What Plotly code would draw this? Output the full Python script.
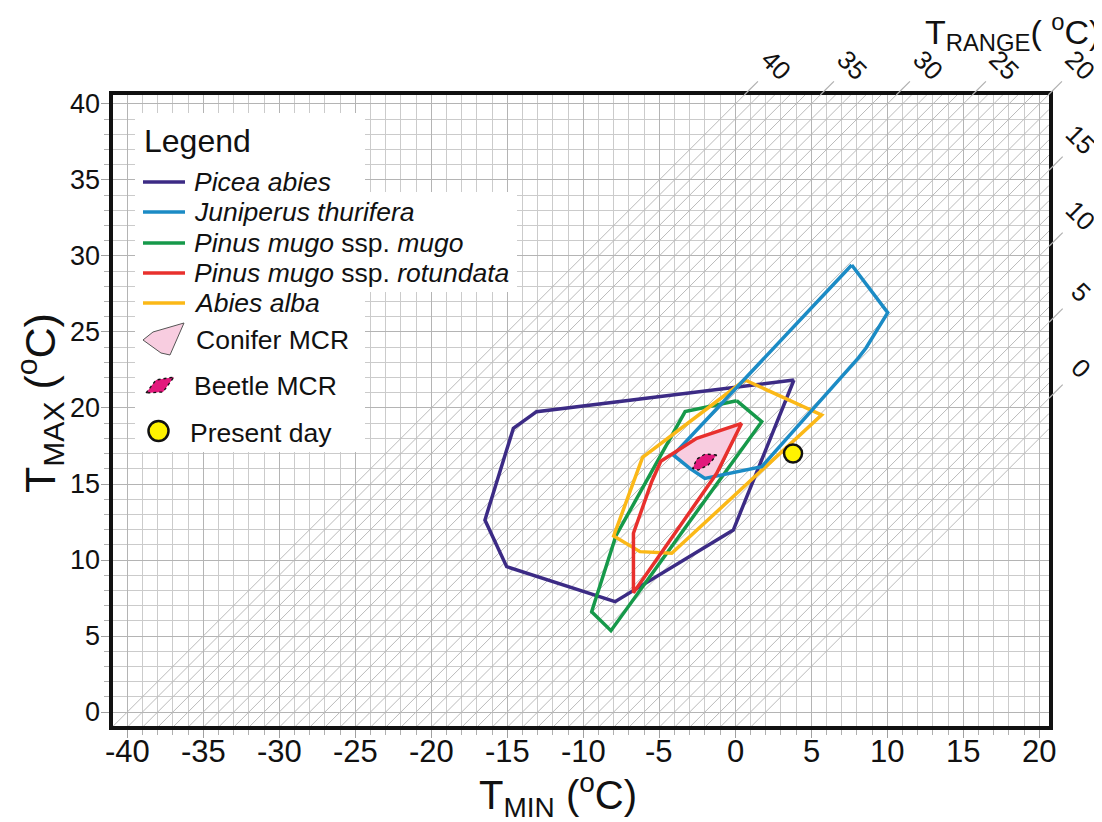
import plotly.graph_objects as go

# ---------------- data ----------------
picea_tmin = [3.86, -0.13, -7.91, -15.04, -16.47, -14.6, -13.07]
picea_tmax = [21.84, 11.97, 7.26, 9.56, 12.63, 18.66, 19.76]

juniperus_tmin = [7.66, 10.03, 8.6, 8.1, 1.74, -0.35, -2.0, -2.99, -4.08]
juniperus_tmax = [29.41, 26.27, 23.95, 23.3, 16.14, 15.7, 15.37, 16.03, 16.91]

mugo_tmin = [0.09, 1.74, -8.18, -9.45, -7.85, -6.06, -3.3]
mugo_tmax = [20.48, 19.1, 5.35, 6.6, 11.6, 14.82, 19.76]

rotundata_tmin = [0.42, -2.54, -4.9, -5.5, -6.7, -6.7, -1.22]
rotundata_tmax = [18.99, 18.0, 16.5, 15.15, 11.76, 7.85, 15.7]

abies_tmin = [0.64, 5.68, -4.18, -6.27, -8.0, -6.1]
abies_tmax = [21.84, 19.54, 10.44, 10.55, 11.58, 16.75]

conifer_mcr_tmin = [0.42, -1.01, -1.45, -1.99, -2.99, -4.08, -2.99, -2.54]
conifer_mcr_tmax = [18.99, 15.92, 15.48, 15.31, 16.03, 16.91, 17.78, 18.0]

beetle_mcr_tmin = [-1.22, -1.99, -2.54, -2.8, -2.43, -1.78]
beetle_mcr_tmax = [16.91, 16.97, 16.63, 16.03, 15.92, 16.25]

present_tmin = [3.8]
present_tmax = [17.0]

trange_levels = list(range(-2, 41))          # diagonal T_RANGE lines
trange_labels = [40, 35, 30, 25, 20, 15, 10, 5, 0]

x_tick_vals = list(range(-40, 21, 5))
x_tick_text = ["-40", "-35", "-30", "-25", "-20", "-15", "-10", "-5", "0", "5", "10", "15", "20"]
y_tick_vals = list(range(0, 41, 5))
y_tick_text = ["0", "5", "10", "15", "20", "25", "30", "35", "40"]

legend_names = ["<i>Picea abies</i>", "<i>Juniperus thurifera</i>",
                "<i>Pinus mugo</i> ssp. <i>mugo</i>", "<i>Pinus mugo</i> ssp. <i>rotundata</i>",
                "<i>Abies alba</i>"]

# ---------------- styling / layout ----------------
OFF = 8                     # default page body margin
W, H = 1102 - OFF, 822 - OFF
# plot-area edges in screen pixels
L, R, T, B = 113, 1049, 95, 726
x_range = [-40.94, 20.64]
y_range = [-0.92, 40.59]

C_PICEA = "#3c2b85"
C_JUNI = "#1b8bc5"
C_MUGO = "#16994a"
C_ROT = "#e8302d"
C_ABIES = "#fbb817"
C_PINK = "#f8cde0"
C_BEETLE = "#e2197c"
colors = [C_PICEA, C_JUNI, C_MUGO, C_ROT, C_ABIES]

FONT = "Liberation Sans, Arial, sans-serif"
LW = 3.5
TXT = "#111111"


def closed(a):
    return list(a) + [a[0]]


def xp(px):
    return (px - L) / (R - L)


def yp(py):
    return (B - py) / (B - T)


def dx2p(x):
    return (x - x_range[0]) / (x_range[1] - x_range[0])


def dy2p(y):
    return (y - y_range[0]) / (y_range[1] - y_range[0])


fig = go.Figure()

# diagonal T_RANGE lines
x0, x1 = x_range
y0, y1 = y_range
dxs, dys = [], []
for t in trange_levels:
    xa = max(x0, y0 - t)
    xb = min(x1, y1 - t)
    if xb > xa:
        dxs += [xa, xb, None]
        dys += [xa + t, xb + t, None]
fig.add_trace(go.Scatter(x=dxs, y=dys, mode="lines", line=dict(color="#bababa", width=1),
                         hoverinfo="skip", showlegend=False))

# polygons
fig.add_trace(go.Scatter(x=closed(picea_tmin), y=closed(picea_tmax), mode="lines",
                         line=dict(color=C_PICEA, width=LW), name="Picea abies", showlegend=False))
fig.add_trace(go.Scatter(x=closed(mugo_tmin), y=closed(mugo_tmax), mode="lines",
                         line=dict(color=C_MUGO, width=LW), name="Pinus mugo ssp. mugo", showlegend=False))
fig.add_trace(go.Scatter(x=closed(abies_tmin), y=closed(abies_tmax), mode="lines",
                         line=dict(color=C_ABIES, width=LW), name="Abies alba", showlegend=False))
fig.add_trace(go.Scatter(x=closed(conifer_mcr_tmin), y=closed(conifer_mcr_tmax), mode="lines",
                         fill="toself", fillcolor=C_PINK, line=dict(color="#555555", width=1),
                         name="Conifer MCR", showlegend=False))
fig.add_trace(go.Scatter(x=closed(juniperus_tmin), y=closed(juniperus_tmax), mode="lines",
                         line=dict(color=C_JUNI, width=LW), name="Juniperus thurifera", showlegend=False))
fig.add_trace(go.Scatter(x=closed(rotundata_tmin), y=closed(rotundata_tmax), mode="lines",
                         line=dict(color=C_ROT, width=LW), name="Pinus mugo ssp. rotundata", showlegend=False))
fig.add_trace(go.Scatter(x=closed(beetle_mcr_tmin), y=closed(beetle_mcr_tmax), mode="lines",
                         fill="toself", fillcolor=C_BEETLE, line=dict(color="#111111", width=1.3, dash="dot"),
                         name="Beetle MCR", showlegend=False))
fig.add_trace(go.Scatter(x=present_tmin, y=present_tmax, mode="markers",
                         marker=dict(size=18, color="#fff200", line=dict(color="#111111", width=2.5)),
                         name="Present day", showlegend=False, cliponaxis=False))

shapes = []
annotations = []

# tick labels (placed as annotations for exact positioning)
for v, txt in zip(x_tick_vals, x_tick_text):
    annotations.append(dict(xref="x", yref="paper", x=v, y=yp(751), text=txt, showarrow=False,
                            xanchor="center", yanchor="middle",
                            font=dict(family=FONT, size=31, color=TXT)))
for v, txt in zip(y_tick_vals, y_tick_text):
    annotations.append(dict(xref="paper", yref="y", x=xp(102), y=v, text=txt, showarrow=False,
                            xanchor="right", yanchor="middle",
                            font=dict(family=FONT, size=27, color=TXT)))

# T_RANGE tick extensions and labels
for t in trange_labels:
    xe = min(x1, y1 - t)
    ye = xe + t
    shapes.append(dict(type="line", xref="paper", yref="paper",
                       x0=dx2p(xe), y0=dy2p(ye), x1=dx2p(xe + 0.9), y1=dy2p(ye + 0.9),
                       line=dict(color="#b0b0b0", width=1.2)))
    annotations.append(dict(xref="paper", yref="paper", x=dx2p(xe + 2.1), y=dy2p(ye + 2.0),
                            text=str(t), showarrow=False, textangle=45,
                            font=dict(family=FONT, size=26, color=TXT),
                            xanchor="center", yanchor="middle"))

# legend background (white, irregular)
shapes.append(dict(type="rect", xref="paper", yref="paper", layer="above",
                   x0=xp(135), x1=xp(365), y0=yp(452), y1=yp(113),
                   fillcolor="white", line=dict(width=0)))
shapes.append(dict(type="rect", xref="paper", yref="paper", layer="above",
                   x0=xp(135), x1=xp(517), y0=yp(292), y1=yp(192),
                   fillcolor="white", line=dict(width=0)))

annotations.append(dict(xref="paper", yref="paper", x=xp(142), y=yp(141), text="Legend",
                        showarrow=False, xanchor="left", yanchor="middle",
                        font=dict(family=FONT, size=32, color=TXT)))
row_y = [182, 212, 243, 273, 303]
for name, col, ry in zip(legend_names, colors, row_y):
    shapes.append(dict(type="line", xref="paper", yref="paper", layer="above",
                       x0=xp(143), x1=xp(185), y0=yp(ry), y1=yp(ry),
                       line=dict(color=col, width=LW)))
    annotations.append(dict(xref="paper", yref="paper", x=xp(192), y=yp(ry), text=name,
                            showarrow=False, xanchor="left", yanchor="middle",
                            font=dict(family=FONT, size=26.5, color=TXT)))

# Conifer MCR symbol
pts = [(143, 340), (153, 332), (184, 323), (170, 355), (161, 353)]
path = "M " + " L ".join(f"{xp(a):.5f},{yp(b):.5f}" for a, b in pts) + " Z"
shapes.append(dict(type="path", xref="paper", yref="paper", layer="above", path=path,
                   fillcolor=C_PINK, line=dict(color="#555555", width=1)))
annotations.append(dict(xref="paper", yref="paper", x=xp(194), y=yp(340), text="Conifer MCR",
                        showarrow=False, xanchor="left", yanchor="middle",
                        font=dict(family=FONT, size=26.5, color=TXT)))
# Beetle MCR symbol
pts = [(146, 393), (156, 380), (174, 377), (163, 392)]
path = "M " + " L ".join(f"{xp(a):.5f},{yp(b):.5f}" for a, b in pts) + " Z"
shapes.append(dict(type="path", xref="paper", yref="paper", layer="above", path=path,
                   fillcolor=C_BEETLE, line=dict(color="#111111", width=1.3, dash="dot")))
annotations.append(dict(xref="paper", yref="paper", x=xp(192), y=yp(386), text="Beetle MCR",
                        showarrow=False, xanchor="left", yanchor="middle",
                        font=dict(family=FONT, size=26.5, color=TXT)))
# Present day symbol
shapes.append(dict(type="circle", xref="paper", yref="paper", layer="above",
                   x0=xp(148.5), x1=xp(168.5), y0=yp(441), y1=yp(421),
                   fillcolor="#fff200", line=dict(color="#111111", width=2.5)))
annotations.append(dict(xref="paper", yref="paper", x=xp(188), y=yp(433), text="Present day",
                        showarrow=False, xanchor="left", yanchor="middle",
                        font=dict(family=FONT, size=26.5, color=TXT)))

# axis titles
annotations.append(dict(xref="paper", yref="paper", x=xp(558), y=yp(795),
                        text="T<sub>MIN</sub> (<sup>o</sup>C)", showarrow=False,
                        xanchor="center", yanchor="middle",
                        font=dict(family=FONT, size=40, color=TXT)))
annotations.append(dict(xref="paper", yref="paper", x=xp(40), y=yp(403),
                        text="T<sub>MAX</sub> (<sup>o</sup>C)", showarrow=False, textangle=-90,
                        xanchor="center", yanchor="middle",
                        font=dict(family=FONT, size=43, color=TXT)))
annotations.append(dict(xref="paper", yref="paper", x=xp(1012), y=yp(32),
                        text="T<sub>RANGE</sub>( <sup>o</sup>C)", showarrow=False,
                        xanchor="center", yanchor="middle",
                        font=dict(family=FONT, size=34, color=TXT)))

axis_common = dict(showline=True, linecolor="#111111", linewidth=4, mirror=True,
                   zeroline=False, showgrid=True, gridcolor="#b4b4b4", gridwidth=1.3,
                   ticks="outside", ticklen=8, tickcolor="#a0a0a0", tickwidth=1.2,
                   tickmode="array", showticklabels=False)
minor_common = dict(tickmode="linear", tick0=0, dtick=1, ticks="outside", ticklen=5,
                    tickcolor="#b0b0b0", tickwidth=1, showgrid=True,
                    gridcolor="#cbcbcb", gridwidth=1)

fig.update_xaxes(range=x_range, tickvals=x_tick_vals, ticktext=x_tick_text,
                 minor=minor_common, **axis_common)
fig.update_yaxes(range=y_range, tickvals=y_tick_vals, ticktext=y_tick_text,
                 minor=minor_common, **axis_common)

fig.update_layout(width=W, height=H,
                  margin=dict(l=L - OFF, r=W - (R - OFF), t=T - OFF, b=H - (B - OFF)),
                  plot_bgcolor="white", paper_bgcolor="white",
                  shapes=shapes, annotations=annotations, showlegend=False)

fig.write_html("out.html")
